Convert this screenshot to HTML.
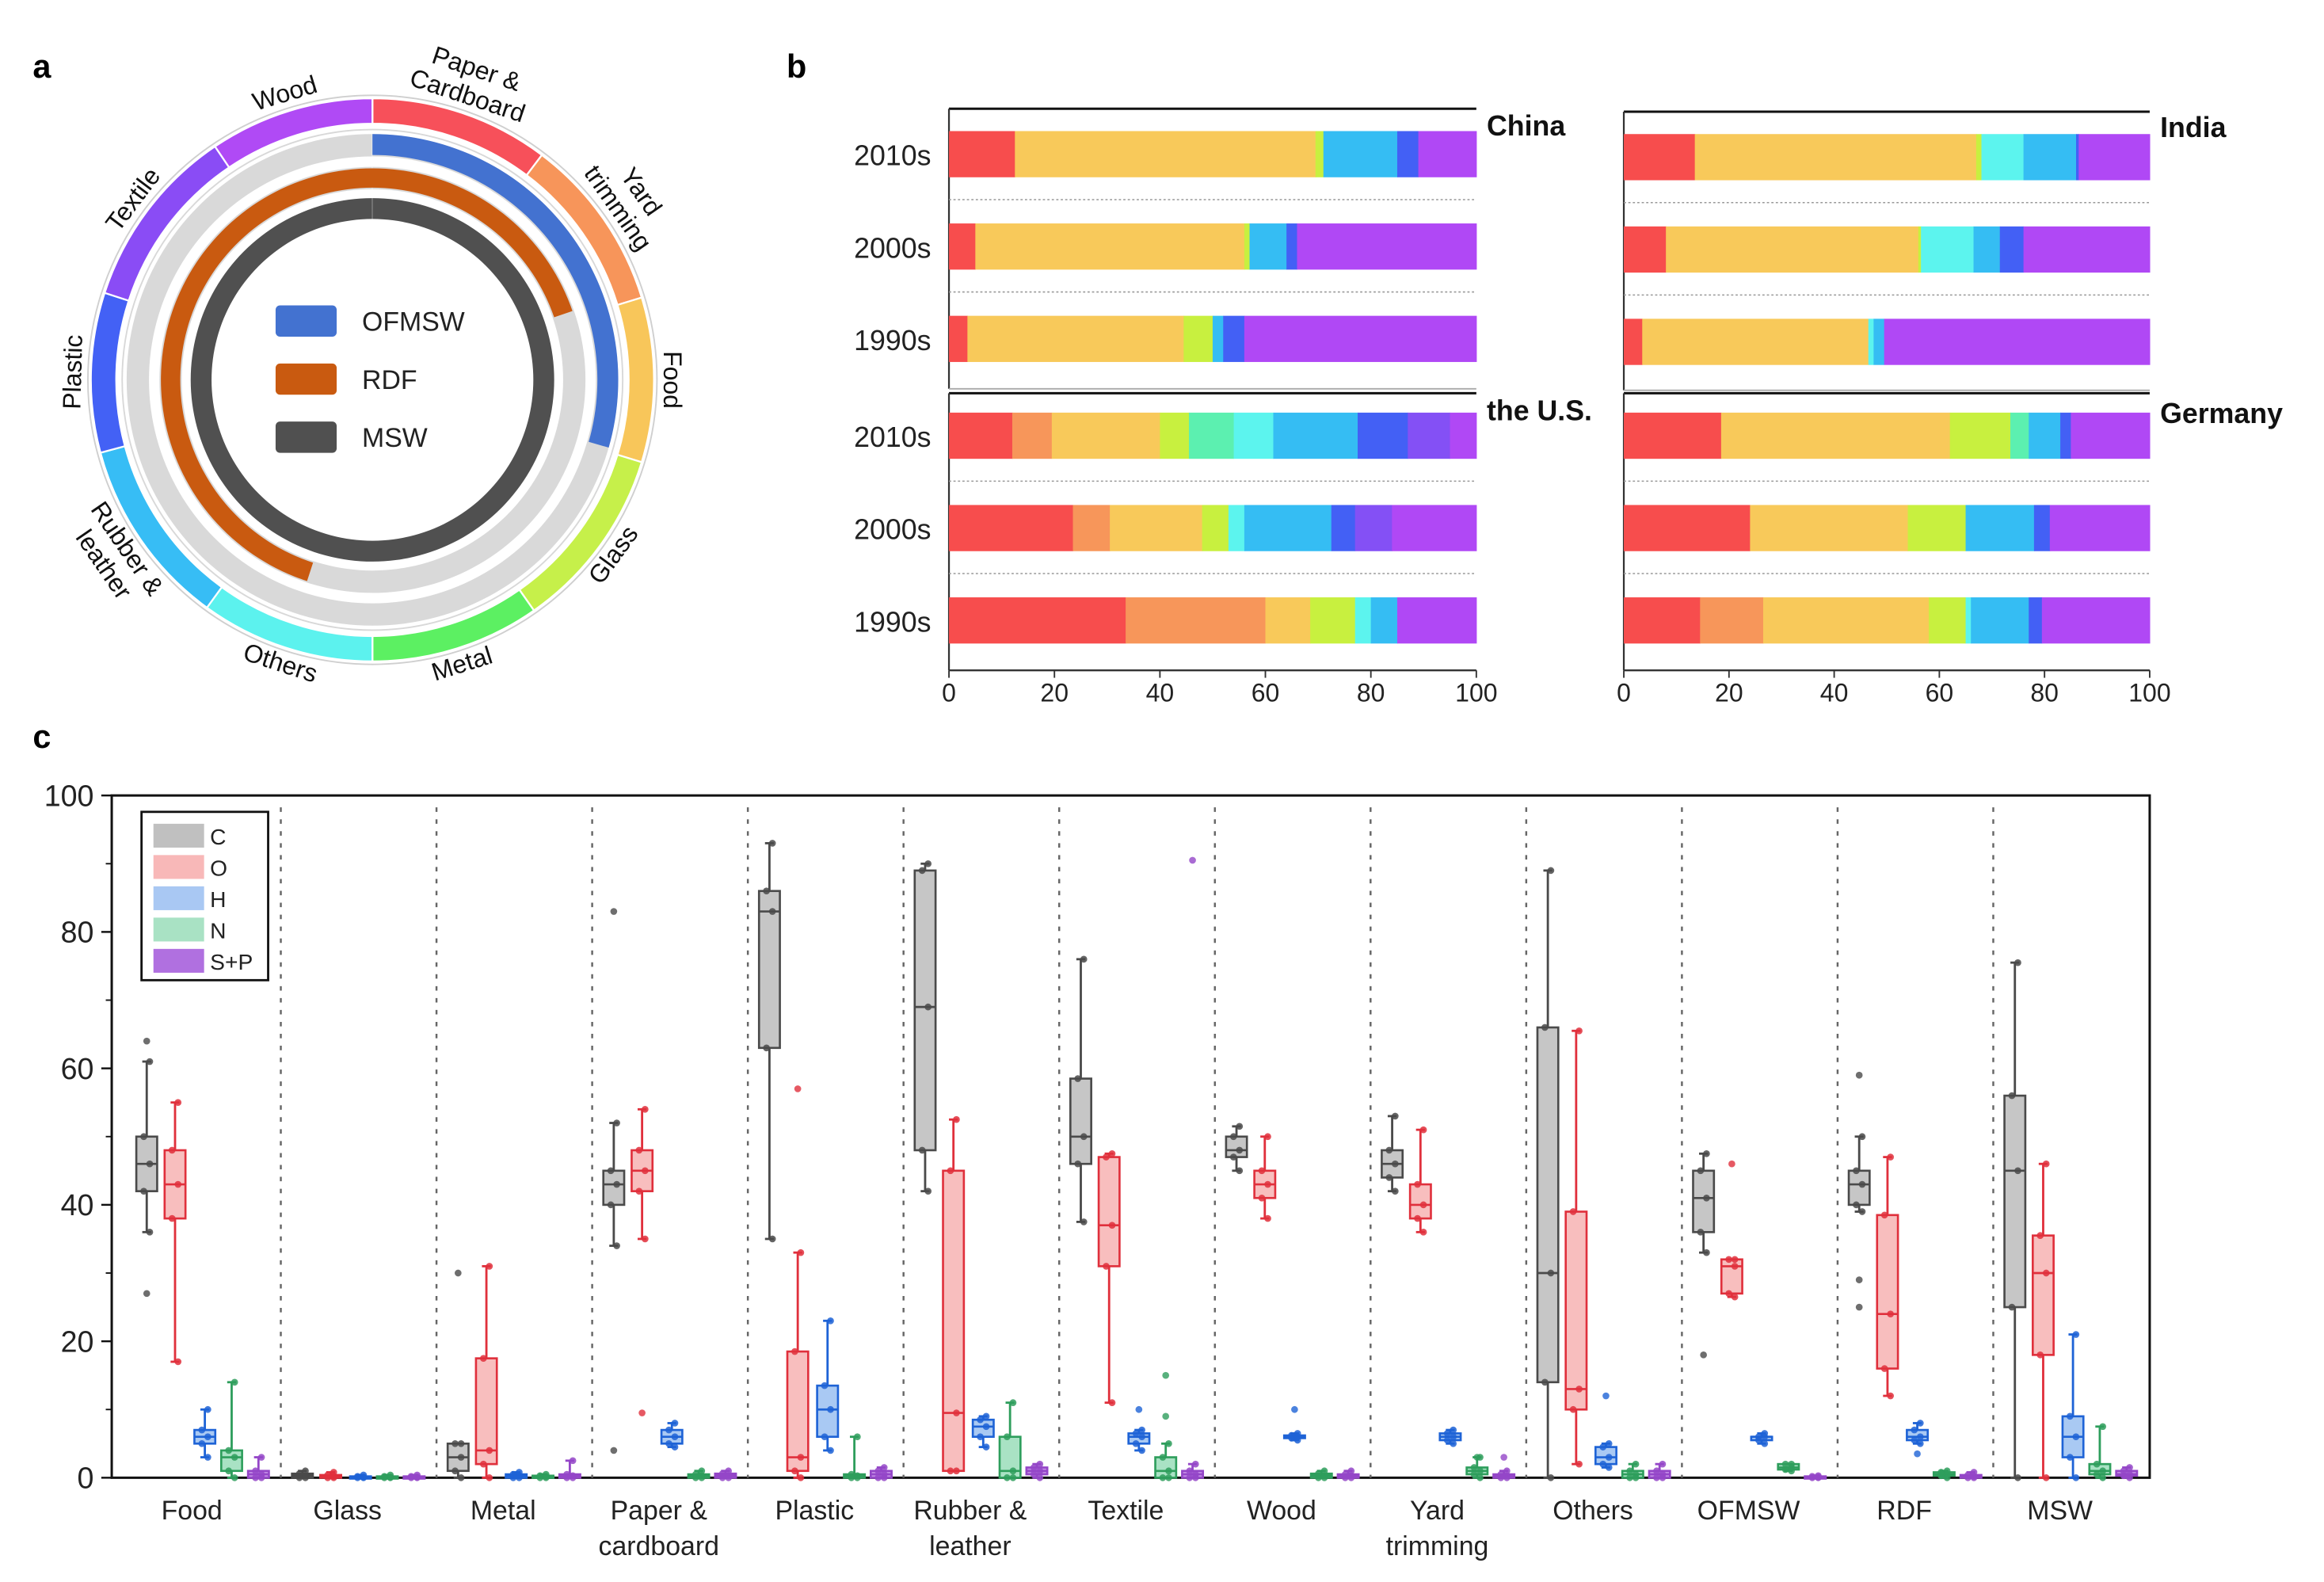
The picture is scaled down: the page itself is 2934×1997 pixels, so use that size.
<!DOCTYPE html>
<html><head><meta charset="utf-8">
<style>
html,body{margin:0;padding:0;background:#fff;}
svg{display:block;font-family:"Liberation Sans",Arial,sans-serif;}
</style></head>
<body>
<svg id="fig" xmlns="http://www.w3.org/2000/svg" width="2934" height="1997" viewBox="0 0 1560 1062" preserveAspectRatio="none">
<text x="22" y="52" font-size="22" font-weight="bold">a</text>
<text x="528" y="52" font-size="22" font-weight="bold">b</text>
<text x="22" y="502" font-size="22" font-weight="bold">c</text>
<g id="pa"></g>
<g id="pb"></g>
<g id="pc"></g>
</svg>
<script>
const NS="http://www.w3.org/2000/svg";
function mk(parent,tag,attrs,txt){const e=document.createElementNS(NS,tag);for(const k in attrs)e.setAttribute(k,attrs[k]);if(txt!==undefined)e.textContent=txt;parent.appendChild(e);return e;}

// ===== Panel a data =====
const ringCats=["Paper & Cardboard","Yard trimming","Food","Glass","Metal","Others","Rubber & leather","Plastic","Textile","Wood"];
const ringStarts=[0,37,73,107,145,180,216,255,288,326];
const ringEnds=[37,73,107,145,180,216,255,288,326,360];
const ringColors=["#f7505a","#f7955a","#f8c65a","#c6f04a","#5cf062","#5cf2ee","#37bdf5","#4361f5","#8a4cf5","#b04af5"];
const ofmswSpan=[0,106];
const rdfSpan=[198,431];
const mswSpan=[0,360];

const CX=250,CY=255;
function pt(r,a){const t=(a-90)*Math.PI/180;return [CX+r*Math.cos(t),CY+r*Math.sin(t)];}
function arc(r0,r1,a0,a1){
  if(a1-a0>=359.9){a1=a0+359.9;}
  const large=(a1-a0)>180?1:0;
  const p0=pt(r1,a0),p1=pt(r1,a1),p2=pt(r0,a1),p3=pt(r0,a0);
  return `M${p0[0]},${p0[1]}A${r1},${r1} 0 ${large} 1 ${p1[0]},${p1[1]}L${p2[0]},${p2[1]}A${r0},${r0} 0 ${large} 0 ${p3[0]},${p3[1]}Z`;
}
const pa=document.getElementById('pa');
mk(pa,'circle',{cx:CX,cy:CY,r:191,fill:'none',stroke:'#cfcfcf','stroke-width':1});
mk(pa,'circle',{cx:CX,cy:CY,r:168,fill:'none',stroke:'#d8d8d8','stroke-width':1});
mk(pa,'path',{d:arc(150,165,0,360),fill:'#d9d9d9'});
mk(pa,'path',{d:arc(128,143,0,360),fill:'#d9d9d9'});
mk(pa,'circle',{cx:CX,cy:CY,r:147,fill:'none',stroke:'#ffffff','stroke-width':2});
ringCats.forEach((c,i)=>{
  const p=mk(pa,'path',{d:arc(172,189,ringStarts[i],ringEnds[i]),fill:ringColors[i],stroke:'#fff','stroke-width':1.2});
  
  
  const mid=(ringStarts[i]+ringEnds[i])/2;
  const bottom=mid>92&&mid<268;
  const rot=bottom?mid-180:mid;
  const lines=c==="Paper & Cardboard"?["Paper &","Cardboard"]:c==="Yard trimming"?["Yard","trimming"]:c==="Rubber & leather"?["Rubber &","leather"]:[c];
  lines.forEach((ln,j)=>{
    let r;
    if(bottom) r=201+j*19; else r=(lines.length>1?219:200)-j*19;
    const q=pt(r,mid);
    const t=mk(pa,'text',{x:q[0],y:q[1],'font-size':17,'text-anchor':'middle','dominant-baseline':'middle',transform:`rotate(${rot} ${q[0]} ${q[1]})`,fill:'#111'},ln);
    
    
  });
});
const of=mk(pa,'path',{d:arc(151,165,ofmswSpan[0],ofmswSpan[1]),fill:'#4372d0'});


const rd=mk(pa,'path',{d:arc(129,142,rdfSpan[0],rdfSpan[1]),fill:'#c95a10'});


const ms=mk(pa,'path',{d:arc(108,122,mswSpan[0],mswSpan[1]),fill:'#505050'});


const ringLeg=[["OFMSW","#4372d0"],["RDF","#c95a10"],["MSW","#505050"]];
ringLeg.forEach((l,i)=>{
  const y=205+i*39;
  const r=mk(pa,'rect',{x:185,y:y,width:41,height:21,rx:3,fill:l[1]});
  
  
  const t=mk(pa,'text',{x:243,y:y+17,'font-size':18,fill:'#222'},l[0]);
  
  
});

// ===== Panel b data =====
const decades=["2010s","2000s","1990s"];
const compColors={red:"#f74d4d",orange:"#f7965a",yellow:"#f8c95a",glass:"#c8f03f",mint:"#5cf0b0",cyan:"#5cf4ee",lblue:"#35bdf3",blue:"#4360f5",indigo:"#8450f5",purple:"#b048f5"};
const chinaKeys=[["red","yellow","glass","lblue","blue","purple"],["red","yellow","glass","lblue","blue","purple"],["red","yellow","glass","lblue","blue","purple"]];
const chinaVals=[[12.5,57,1.5,14,4,11],[5,51,1,7,2,34],[3.5,41,5.5,2,4,44]];
const indiaKeys=[["red","yellow","glass","cyan","lblue","blue","purple"],["red","yellow","glass","cyan","lblue","blue","purple"],["red","yellow","cyan","lblue","purple"]];
const indiaVals=[[13.5,53.5,1,8,10,0.5,13.5],[8,48,0.5,10,5,4.5,24],[3.5,43,1,2,50.5]];
const usKeys=[["red","orange","yellow","glass","mint","cyan","lblue","blue","indigo","purple"],["red","orange","yellow","glass","cyan","lblue","blue","indigo","purple"],["red","orange","yellow","glass","cyan","lblue","purple"]];
const usVals=[[12,7.5,20.5,5.5,8.5,7.5,16,9.5,8,5],[23.5,7,17.5,5,3,16.5,4.5,7,16],[33.5,26.5,8.5,8.5,3,5,15]];
const deKeys=[["red","yellow","glass","mint","lblue","blue","purple"],["red","yellow","glass","lblue","blue","purple"],["red","orange","yellow","glass","cyan","lblue","blue","purple"]];
const deVals=[[18.5,43.5,11.5,3.5,6,2,15],[24,30,11,13,3,19],[14.5,12,31.5,7,1,11,2.5,20.5]];
const xTicksB=[0,20,40,60,80,100];

const pb=document.getElementById('pb');
function barPanel(name,keys,vals,x0,x1,top,rowsY,bottom,title,titleY,showX,showY){
  const g=mk(pb,'g',{});
  
  
  const sx=v=>x0+(x1-x0)*v/100;
  mk(g,'line',{x1:x0,y1:top,x2:x1,y2:top,stroke:'#111','stroke-width':1.6});
  mk(g,'line',{x1:x0,y1:top,x2:x0,y2:bottom,stroke:'#333','stroke-width':1.2});
  rowsY.forEach((y,i)=>{
    if(i<2){mk(g,'line',{x1:x0,y1:y+46,x2:x1,y2:y+46,stroke:'#999','stroke-width':0.8,'stroke-dasharray':'1.5 1.5'});}
    let acc=0;
    vals[i].forEach((v,j)=>{
      const r=mk(g,'rect',{x:sx(acc),y:y,width:sx(acc+v)-sx(acc)+0.3,height:31,fill:compColors[keys[i][j]]});
      
      
      acc+=v;
    });
    if(showY){
      const t=mk(g,'text',{x:x0-12,y:y+23,'font-size':19,'text-anchor':'end',fill:'#222'},decades[i]);
      
      
    }
  });
  const tt=mk(g,'text',{x:x1+7,y:titleY,'font-size':19,'font-weight':'bold',fill:'#111'},title);
  
  
  if(showX){
    mk(g,'line',{x1:x0,y1:bottom,x2:x1,y2:bottom,stroke:'#333','stroke-width':1.2});
    xTicksB.forEach(v=>{
      mk(g,'line',{x1:sx(v),y1:bottom,x2:sx(v),y2:bottom+5,stroke:'#333','stroke-width':1});
      const t=mk(g,'text',{x:sx(v),y:bottom+21,'font-size':17,'text-anchor':'middle',fill:'#222'},v);
      
      
    });
  } else {
    mk(g,'line',{x1:x0,y1:bottom,x2:x1,y2:bottom,stroke:'#aaa','stroke-width':1});
  }
}
barPanel('china',chinaKeys,chinaVals,637,991,73,[88,150,212],261,'China',91,false,true);
barPanel('india',indiaKeys,indiaVals,1090,1443,75,[90,152,214],262,'India',92,false,false);
barPanel('us',usKeys,usVals,637,991,264,[277,339,401],450,'the U.S.',282,true,true);
barPanel('germany',deKeys,deVals,1090,1443,264,[277,339,401],450,'Germany',284,true,false);

// ===== Panel c data =====
const materials=["Food","Glass","Metal","Paper & cardboard","Plastic","Rubber & leather","Textile","Wood","Yard trimming","Others","OFMSW","RDF","MSW"];
const elements=["C","O","H","N","S+P"];
const statsC=[[36,42,46,50,61],[0,0,0.3,0.6,1],[0,1,3,5,5],[34,40,43,45,52],[35,63,83,86,93],[42,48,69,89,90],[37.5,46,50,58.5,76],[45,47,48,50,51.5],[42,44,46,48,53],[0,14,30,66,89],[33,36,41,45,47.5],[39,40,43,45,50],[0,25,45,56,75.5]];
const statsO=[[17,38,43,48,55],[0,0,0.2,0.4,0.8],[0,2,4,17.5,31],[35,42,45,48,54],[0,1,3,18.5,33],[1,1,9.5,45,52.5],[11,31,37,47,47.5],[38,41,43,45,50],[36,38,40,43,51],[2,10,13,39,65.5],[26.5,27,31,32,32],[12,16,24,38.5,47],[0,18,30,35.5,46]];
const statsH=[[3,5,6,7,10],[0,0,0.1,0.2,0.4],[0,0,0.3,0.5,0.8],[4.5,5,6,7,8],[4,6,10,13.5,23],[4.5,6,7.5,8.5,9],[4,5,6,6.5,7],[5.5,5.8,6,6.2,6.5],[5,5.5,6,6.5,7],[1.5,2,3,4.5,5],[5,5.5,6,6,6.5],[5,5.5,6,7,8],[0,3,6,9,21]];
const statsN=[[0,1,3,4,14],[0,0,0.1,0.2,0.4],[0,0,0.2,0.3,0.5],[0,0,0.3,0.5,1],[0,0,0.3,0.5,6],[0,0,1,6,11],[0,0,1,3,5],[0,0,0.3,0.6,1],[0,0.5,1,1.5,3],[0,0,0.5,1,2],[1,1.2,1.5,2,2],[0,0.3,0.5,0.8,1],[0,0.5,1,2,7.5]];
const statsSP=[[0,0,0.5,1,3],[0,0,0.1,0.2,0.4],[0,0,0.3,0.5,2.5],[0,0,0.3,0.6,1],[0,0,0.5,1,1.5],[0,0.5,1,1.5,2],[0,0,0.5,1,2],[0,0,0.3,0.5,1],[0,0,0.3,0.5,1],[0,0,0.5,1,2],[0,0,0.1,0.2,0.3],[0,0,0.2,0.4,0.8],[0,0.3,0.5,1,1.5]];
const outliers=[[0,0,64],[0,0,27],[2,0,30],[3,0,83],[3,0,4],[3,1,9.5],[4,1,57],[6,2,10],[6,3,15],[6,3,9],[6,4,90.5],[7,2,10],[8,3,3],[8,4,3],[9,2,12],[10,0,18],[10,1,46],[11,0,59],[11,0,29],[11,0,25],[11,2,3.5]];
const yTicksC=[0,20,40,60,80,100];

const pc=document.getElementById('pc');
const X0=75,X1=1443,Y0=992,Y1=534;
const sy=v=>Y0-(Y0-Y1)*v/100;
const GW=104.5;
const gx=i=>83.5+GW*i;
const offs=[15,34,54,72,90];
const fills=["#c6c6c6","#f8bebe","#a9c9f3","#a9e2c4","#c48ee6"];
const strokes=["#4a4a4a","#e0303c","#1e63d6","#2e9e5c","#9446c8"];
const allStats=[statsC,statsO,statsH,statsN,statsSP];
mk(pc,'rect',{x:X0,y:Y1,width:X1-X0,height:Y0-Y1,fill:'none',stroke:'#111','stroke-width':1.6});
yTicksC.forEach(v=>{
  mk(pc,'line',{x1:X0-7,y1:sy(v),x2:X0,y2:sy(v),stroke:'#111','stroke-width':1.3});
  const t=mk(pc,'text',{x:X0-12,y:sy(v)+7,'font-size':20,'text-anchor':'end',fill:'#222'},v);
  
  
});
for(let v=10;v<100;v+=20){mk(pc,'line',{x1:X0-4,y1:sy(v),x2:X0,y2:sy(v),stroke:'#111','stroke-width':1});}
for(let i=1;i<13;i++){mk(pc,'line',{x1:gx(i)+0.5,y1:Y1+8,x2:gx(i)+0.5,y2:Y0,stroke:'#666','stroke-width':1.3,'stroke-dasharray':'3 5'});}
materials.forEach((m,i)=>{
  const g=mk(pc,'g',{});
  
  
  allStats.forEach((S,k)=>{
    const s=S[i];const cx=gx(i)+offs[k];const w=14;
    mk(g,'line',{x1:cx,y1:sy(s[0]),x2:cx,y2:sy(s[4]),stroke:strokes[k],'stroke-width':1.5});
    mk(g,'line',{x1:cx-3,y1:sy(s[4]),x2:cx+3,y2:sy(s[4]),stroke:strokes[k],'stroke-width':1.5});
    mk(g,'line',{x1:cx-3,y1:sy(s[0]),x2:cx+3,y2:sy(s[0]),stroke:strokes[k],'stroke-width':1.5});
    const b=mk(g,'rect',{x:cx-w/2,y:sy(s[3]),width:w,height:Math.max(sy(s[1])-sy(s[3]),1.5),fill:fills[k],stroke:strokes[k],'stroke-width':1.4});
    
    
    mk(g,'line',{x1:cx-w/2,y1:sy(s[2]),x2:cx+w/2,y2:sy(s[2]),stroke:strokes[k],'stroke-width':1.4});
    s.forEach((v,j)=>{const d=mk(g,'circle',{cx:cx+(j%2?-2:2),cy:sy(v),r:2.3,fill:strokes[k],opacity:0.85});
      
      });
  });
  const lines=m==="Paper & cardboard"?["Paper &","cardboard"]:m==="Rubber & leather"?["Rubber &","leather"]:m==="Yard trimming"?["Yard","trimming"]:[m];
  lines.forEach((ln,j)=>{
    const t=mk(g,'text',{x:gx(i)+GW/2-7,y:1020+j*24,'font-size':18,'text-anchor':'middle',fill:'#222'},ln);
    
    
  });
});
outliers.forEach(o=>{
  const d=mk(pc,'circle',{cx:gx(o[0])+offs[o[1]],cy:sy(o[2]),r:2.3,fill:strokes[o[1]],opacity:0.8});
  
  
});
const lg=mk(pc,'g',{});


mk(lg,'rect',{x:95,y:545,width:85,height:113,fill:'#fff',stroke:'#111','stroke-width':1.5});
const legFills=["#c0c0c0","#f8b8b8","#a9c8f3","#a9e2c4","#b070e0"];
elements.forEach((e,k)=>{
  const y=553+k*21;
  const r=mk(lg,'rect',{x:103,y:y,width:34,height:16,fill:legFills[k]});
  
  
  const t=mk(lg,'text',{x:141,y:y+14,'font-size':15,fill:'#222'},e);
  
  
});
</script>
</body></html>
